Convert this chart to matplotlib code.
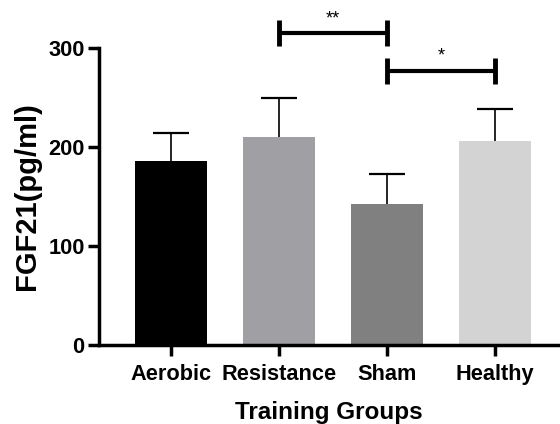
import numpy as np
import matplotlib.pyplot as plt

# Datos
grupos = ["Aerobic", "Resistance", "Sham", "Healthy"]
medias = [186, 210, 142, 205.5]
errores = [28, 39, 31, 33]
colores = ["#000000", "#a0a0a4", "#808080", "#d3d3d3"]

# Comparaciones significativas (grupo1, grupo2, altura, etiqueta)
comparaciones = [(1, 2, 315, "**"), (2, 3, 277, "*")]

plt.rcParams["font.family"] = ["Liberation Sans", "DejaVu Sans"]

fig = plt.figure(figsize=(5.6, 4.24), dpi=100)
ax = fig.add_axes([0.176, 0.187, 0.824, 0.7])

x = np.arange(len(grupos))
ax.bar(x, medias, width=0.667, color=colores, zorder=2)

# Solo la mitad superior del error (SD)
tope = np.array(medias) + np.array(errores)
ax.vlines(x, medias, tope, color="black", lw=1.2, zorder=1)
ax.hlines(tope, x - 0.167, x + 0.167, color="black", lw=1.6, zorder=1)

# Barras de significancia
for g1, g2, h, txt in comparaciones:
    ax.plot([g1, g2], [h, h], color="black", lw=3, clip_on=False, solid_capstyle="butt")
    for g in (g1, g2):
        ax.plot([g, g], [h - 13, h + 13], color="black", lw=3.5, clip_on=False,
                solid_capstyle="butt")
    ax.text((g1 + g2) / 2, h + 6, txt, ha="center", va="bottom", fontsize=13)

ax.set_xlim(-0.669, 3.6)
ax.set_ylim(0, 300)
ax.set_yticks([0, 100, 200, 300])
ax.set_xticks(x)
ax.set_xticklabels(grupos, fontsize=15.7, fontweight="bold")
for lab in ax.get_yticklabels():
    lab.set_fontsize(15.7)
    lab.set_fontweight("bold")

ax.spines["top"].set_visible(False)
ax.spines["right"].set_visible(False)
ax.spines["left"].set_linewidth(2.5)
ax.spines["bottom"].set_linewidth(2.5)
ax.tick_params(axis="y", width=2.5, length=8, pad=2)
ax.tick_params(axis="x", width=2.5, length=8, pad=6)

ax.set_ylabel("FGF21(pg/ml)", fontsize=21, fontweight="bold", labelpad=5)
ax.set_xlabel("Training Groups", fontsize=17.5, fontweight="bold", labelpad=11.5)

fig.savefig("out.png", dpi=100, facecolor="white")
